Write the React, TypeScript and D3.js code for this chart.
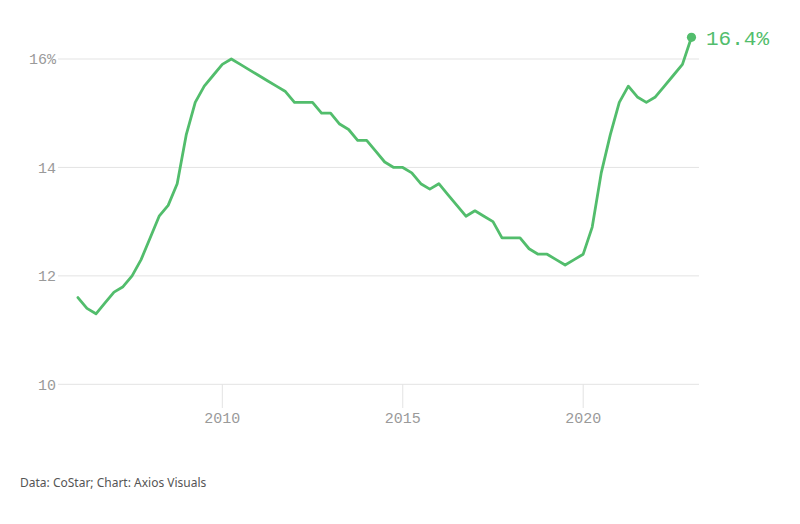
import React from "react";
import * as d3 from "d3";

const startYear = 2006;
const quarterStep = 0.25;
const rateValues: number[] = [
  11.6, 11.4, 11.3, 11.5, 11.7, 11.8, 12.0, 12.3, 12.7, 13.1, 13.3, 13.7,
  14.6, 15.2, 15.5, 15.7, 15.9, 16.0, 15.9, 15.8, 15.7, 15.6, 15.5, 15.4,
  15.2, 15.2, 15.2, 15.0, 15.0, 14.8, 14.7, 14.5, 14.5, 14.3, 14.1, 14.0,
  14.0, 13.9, 13.7, 13.6, 13.7, 13.5, 13.3, 13.1, 13.2, 13.1, 13.0, 12.7,
  12.7, 12.7, 12.5, 12.4, 12.4, 12.3, 12.2, 12.3, 12.4, 12.9, 13.9, 14.6,
  15.2, 15.5, 15.3, 15.2, 15.3, 15.5, 15.7, 15.9, 16.4,
];
const yTicks = [10, 12, 14, 16];
const xTicks = [2010, 2015, 2020];
const lastLabel = "16.4%";
const sourceText = "Data: CoStar; Chart: Axios Visuals";

const W = 800;
const H = 524;
const GREEN = "#52bd6c";
const MONO = "'Liberation Mono', 'DejaVu Sans Mono', monospace";

export default function App() {
  const data = rateValues.map((v, i) => ({ t: startYear + i * quarterStep, v }));
  const x = d3.scaleLinear().domain([2010, 2020]).range([222.3, 583.2]);
  const y = d3.scaleLinear().domain([10, 16]).range([384.3, 59]);
  const line = d3
    .line<{ t: number; v: number }>()
    .x((d) => x(d.t))
    .y((d) => y(d.v));
  const last = data[data.length - 1];
  const gridX0 = 58;
  const gridX1 = 699;

  return (
    <svg
      width={W}
      height={H}
      style={{ position: "absolute", left: 0, top: 0, background: "#fff" }}
    >
      {yTicks.map((t) => (
        <g key={t}>
          <line x1={gridX0} x2={gridX1} y1={y(t)} y2={y(t)} stroke="#e3e3e3" strokeWidth={1} />
          <text
            x={56}
            y={y(t)}
            dy="0.35em"
            textAnchor="end"
            fontFamily={MONO}
            fontSize={15}
            fill="#9a9a9a"
          >
            {t === 16 ? `${t}%` : t}
          </text>
        </g>
      ))}
      {xTicks.map((t) => (
        <g key={t}>
          <line x1={x(t)} x2={x(t)} y1={y(10)} y2={408} stroke="#e3e3e3" strokeWidth={1} />
          <text
            x={x(t)}
            y={423}
            textAnchor="middle"
            fontFamily={MONO}
            fontSize={15}
            fill="#9a9a9a"
          >
            {t}
          </text>
        </g>
      ))}
      <path
        d={line(data) || ""}
        fill="none"
        stroke={GREEN}
        strokeWidth={2.8}
        strokeLinejoin="round"
        strokeLinecap="round"
      />
      <circle cx={x(last.t)} cy={y(last.v)} r={4.6} fill={GREEN} />
      <text
        x={706}
        y={y(last.v)}
        dy="0.35em"
        fontFamily={MONO}
        fontSize={21}
        fill={GREEN}
      >
        {lastLabel}
      </text>
      <text x={20} y={487} fontFamily="'Noto Sans', Inter, sans-serif" fontSize={12} fill="#555">
        {sourceText}
      </text>
    </svg>
  );
}
